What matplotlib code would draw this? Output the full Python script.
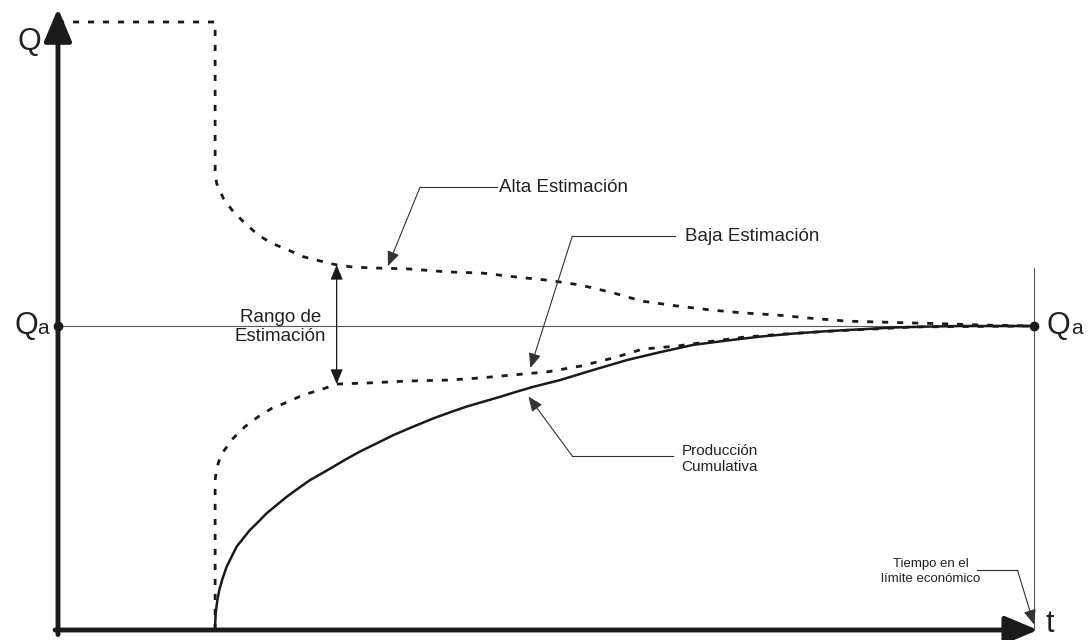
import matplotlib
matplotlib.use("Agg")
import matplotlib.pyplot as plt
import numpy as np

plt.rcParams['font.family'] = ['Liberation Sans', 'DejaVu Sans']

# ---------------- data (t: % of time to economic limit, Q: % of Qa) ----------------
Q_A = 100.0          # final estimated reserves
T_LIMITE = 100.0     # time at the economic limit
T_INICIO = 16.1      # start of production
Q_MAX = 200.0        # initial (very high) estimate

t_alta = [0, T_INICIO, T_INICIO, 16.26, 16.94, 17.96, 19.16, 20.53, 21.9, 23.6, 25.13, 26.84, 28.55,
          30.2, 32.2, 35.8, 39.9, 43.5, 47.0, 50.1, 53.5, 56.9, 59.8, 63.4, 66.8, 70.2,
          73.7, 77.0, 80.8, 84.2, 87.6, 91.1, 94.8, 100]
q_alta = [Q_MAX, Q_MAX, 150.2, 146.9, 142.0, 137.6, 133.8, 129.9, 127.2, 125.0, 122.8, 121.4, 120.1,
          119.4, 119.1, 118.8, 117.8, 117.4, 116.1, 115.1, 113.5, 110.9, 108.2, 106.6, 105.3, 104.3,
          103.6, 102.6, 101.6, 101.3, 101.0, 100.7, 100.3, 100]

t_baja = [T_INICIO, T_INICIO, 16.26, 16.53, 16.94, 17.45, 17.96, 19.16, 20.53, 21.9, 23.6, 25.1,
          26.8, 28.55, 30.2, 32.0, 35.8, 39.9, 43.2, 46.6, 50.1, 53.5, 56.9, 59.9, 63.4, 66.8,
          70.2, 73.7, 77.0, 80.8, 84.2, 87.6, 100]
q_baja = [0, 49.3, 53.2, 55.9, 58.7, 60.9, 63.1, 66.9, 70.2, 72.9, 75.1, 77.3,
          78.9, 80.9, 81.1, 81.3, 81.9, 82.2, 82.9, 83.9, 84.9, 86.8, 89.5, 92.4, 93.4, 94.9,
          96.3, 97.2, 97.9, 98.6, 99.1, 99.7, 100]

t_prod = [T_INICIO, 16.09, 16.16, 16.33, 16.53, 16.87, 17.28, 17.79, 18.3, 18.99, 19.67, 20.53,
          21.38, 22.4, 23.43, 24.62, 25.82, 27.02, 28.21, 29.58, 30.94, 32.65, 34.36, 36.4,
          38.45, 40.16, 41.87, 43.58, 45.29, 47.0, 48.7, 51.43, 54.8, 58.3, 61.7, 65.1, 68.5,
          71.9, 75.3, 78.8, 82.2, 85.6, 89.0, 92.4, 100]
q_prod = [0, 1.1, 5.5, 9.9, 13.2, 17.0, 20.8, 24.1, 27.4, 30.2, 32.9, 35.6,
          38.4, 41.1, 43.8, 46.6, 49.3, 51.5, 53.7, 56.3, 58.7, 61.4, 64.1, 66.9,
          69.6, 71.6, 73.5, 75.1, 76.7, 78.4, 80.0, 82.2, 85.5, 88.8, 91.4, 93.8, 95.2,
          96.5, 97.5, 98.3, 98.9, 99.5, 99.8, 100, 100]

# ---------------- figure ----------------
fig = plt.figure(figsize=(10.92, 6.4), dpi=100)
ax = fig.add_axes([0, 0, 1, 1])
ax.set_xlim(-5.94, 105.94)
ax.set_ylim(-3.29, 207.24)
ax.axis('off')

INK = '#1a1a1a'
THIN = '#5a5a5a'
TXT = '#222222'

# reference lines
ax.plot([0, T_LIMITE], [Q_A, Q_A], color=THIN, lw=0.8, zorder=1)
ax.plot([T_LIMITE, T_LIMITE], [0, 119], color=THIN, lw=0.8, zorder=1)

# curves
dash = (0, (2.2, 3.2))
ax.plot(t_alta, q_alta, color=INK, lw=2.0, ls=dash, zorder=3)
ax.plot(t_baja, q_baja, color=INK, lw=2.0, ls=dash, zorder=3)
ax.plot(t_prod, q_prod, color=INK, lw=1.8, zorder=2, solid_joinstyle='round')

# axes with arrows
axis_arrow = dict(arrowstyle='-|>,head_length=1.0,head_width=0.42', lw=3.5, color=INK,
                  shrinkA=0, shrinkB=0, mutation_scale=20)
ax.annotate('', xy=(0, 204.5), xytext=(0, -1.5), arrowprops=axis_arrow, zorder=6)
ax.annotate('', xy=(100.4, 0), xytext=(-0.3, 0), arrowprops=axis_arrow, zorder=6)

# Qa points
ax.plot([0, T_LIMITE], [Q_A, Q_A], 'o', color=INK, ms=6, zorder=7)

# axis labels
ax.text(-2.9, 193.4, 'Q', fontsize=22, color=TXT, ha='center', va='center')
ax.text(-4.5, 97.4, 'Q', fontsize=22, color=TXT, ha='left', va='baseline')
ax.text(-2.15, 97.4, 'a', fontsize=15, color=TXT, ha='left', va='baseline')
ax.text(101.3, 97.4, 'Q', fontsize=22, color=TXT, ha='left', va='baseline')
ax.text(103.8, 97.4, 'a', fontsize=15, color=TXT, ha='left', va='baseline')
ax.text(101.2, -3.1, 't', fontsize=22, color=TXT, ha='left', va='bottom')

# range of estimation
t_rango = 28.55
q_hi = float(np.interp(t_rango, t_alta[2:], q_alta[2:]))
q_lo = float(np.interp(t_rango, t_baja[1:], q_baja[1:]))
ax.annotate('', xy=(t_rango, q_hi), xytext=(t_rango, q_lo),
            arrowprops=dict(arrowstyle='<|-|>,head_length=0.6,head_width=0.25', mutation_scale=15,
                            lw=0.9, color=INK, shrinkA=0, shrinkB=0), zorder=5)
ax.text(22.8, 99.7, 'Rango de\nEstimación', fontsize=13.5, color=TXT, ha='center', va='center',
        multialignment='center', linespacing=1.15)

# leader annotations
lead = dict(arrowstyle='-|>,head_length=0.6,head_width=0.25', mutation_scale=15,
            lw=0.8, color='#333333', shrinkA=0, shrinkB=0)


def leader(x_text, y_text, x_corner, tip):
    ax.plot([x_text, x_corner], [y_text, y_text], color='#333333', lw=0.8, zorder=4)
    ax.annotate('', xy=tip, xytext=(x_corner, y_text), arrowprops=lead, zorder=5)


leader(45.0, 145.7, 37.1, (33.8, 119.7))
ax.text(45.2, 145.7, 'Alta Estimación', fontsize=13.5, color=TXT, ha='left', va='center')

leader(63.2, 129.6, 52.7, (48.4, 86.2))
ax.text(64.2, 129.3, 'Baja Estimación', fontsize=13.5, color=TXT, ha='left', va='center')

leader(63.0, 57.2, 52.7, (48.2, 76.8))
ax.text(63.9, 56.3, 'Producción\nCumulativa', fontsize=11, color=TXT, ha='left', va='center',
        linespacing=1.15)

leader(94.2, 19.7, 98.3, (100.0, 1.8))
ax.text(89.4, 19.2, 'Tiempo en el\nlímite económico', fontsize=9.5, color=TXT, ha='center',
        va='center', multialignment='center', linespacing=1.35)

fig.savefig('out.png', dpi=100, facecolor='white')
